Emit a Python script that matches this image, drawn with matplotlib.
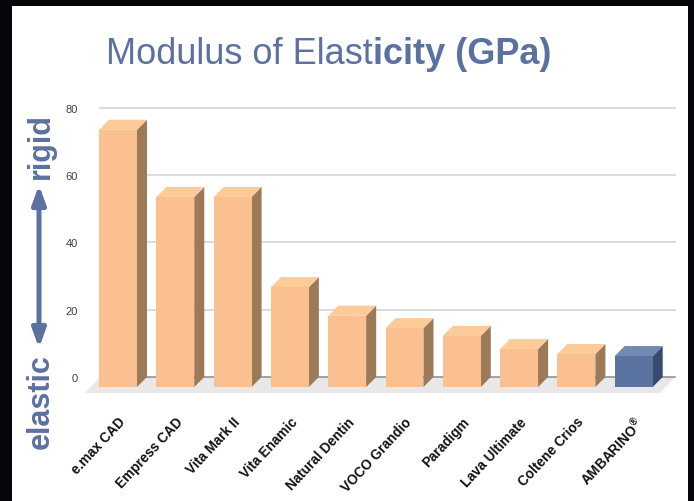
import matplotlib
matplotlib.use('Agg')
import matplotlib.pyplot as plt
from matplotlib.patches import Polygon, Rectangle, FancyArrowPatch

categories = ["e.max CAD", "Empress CAD", "Vita Mark II", "Vita Enamic", "Natural Dentin",
              "VOCO Grandio", "Paradigm", "Lava Ultimate", "Coltene Crios", "AMBARINO$^{®}$"]
values = [76.5, 56.5, 56.5, 29.7, 21.2, 17.5, 15.2, 11.3, 9.8, 9.2]
yticks = [0, 20, 40, 60, 80]
title_regular = "Modulus of Elast"
title_bold = "icity (GPa)"

plt.rcParams['font.family'] = ['Liberation Sans', 'DejaVu Sans']
plt.rcParams['mathtext.fontset'] = 'custom'
plt.rcParams['mathtext.rm'] = 'Liberation Sans:bold'
plt.rcParams['mathtext.it'] = 'Liberation Sans:bold'

W, H = 694, 502
def fx(px): return px / W
def fy(py): return 1 - py / H

BLUE = '#5B72A0'
fig = plt.figure(figsize=(6.94, 5.02), dpi=100, facecolor='#06060a')
fig.patches.append(Rectangle((fx(12), 0), (688 - 12) / W, (502 - 7) / H,
                             transform=fig.transFigure, facecolor='white',
                             edgecolor='none', zorder=-10))

ax = fig.add_axes([fx(83.6), fy(401.5), (682.4 - 83.6) / W, (401.5 - 98.9) / H])
ax.set_xlim(-0.6, 9.85)
ax.set_ylim(-7, 83)
ax.set_frame_on(False)
ax.patch.set_alpha(0)

DX, DY = 0.175, 3.0          # depth offset (data units)
HALF = 0.331                 # half bar width
wall_l, wall_r = -0.314, 9.72
FDX, FDY = -0.26, -4.76      # floor front offset

# floor
ax.add_patch(Polygon([(wall_l, 0), (wall_r, 0), (wall_r + FDX, FDY), (wall_l + FDX, FDY)],
                     closed=True, facecolor='#e8e8e8', edgecolor='none', zorder=1))
# gridlines on back wall
for t in yticks[1:]:
    ax.plot([wall_l, wall_r], [t, t], color='#d9d9d9', lw=1.3, zorder=1)
ax.plot([wall_l, wall_r], [0, 0], color='#8a8a8a', lw=1.1, zorder=1.5)

for i, v in enumerate(values):
    if i == len(values) - 1:
        front, side, top = '#5B73A0', '#364B6F', '#7189B4'
    else:
        front, side, top = '#FAC090', '#9C7A58', '#FCCB98'
    x0, x1 = i - HALF, i + HALF
    yb, yt = -DY, v - DY
    ax.add_patch(Polygon([(x1, yb), (x1 + DX, 0), (x1 + DX, v), (x1, yt)],
                         closed=True, facecolor=side, edgecolor='none', zorder=3))
    ax.add_patch(Polygon([(x0, yt), (x1, yt), (x1 + DX, v), (x0 + DX, v)],
                         closed=True, facecolor=top, edgecolor='none', zorder=3))
    ax.add_patch(Polygon([(x0, yb), (x1, yb), (x1, yt), (x0, yt)],
                         closed=True, facecolor=front, edgecolor='none', zorder=3))

ax.set_yticks(yticks)
ax.set_yticklabels([str(t) for t in yticks])
ax.tick_params(axis='y', length=0, pad=4, labelsize=8, labelcolor='#404040')
ax.set_xticks(range(len(categories)))
ax.set_xticklabels(categories, rotation=47, ha='right', rotation_mode='anchor',
                   fontweight='bold', fontsize=9.8, color='#111111')
ax.tick_params(axis='x', length=0, pad=10)

# title
t1 = fig.text(fx(106), fy(64), title_regular, fontsize=26, color=BLUE,
              ha='left', va='baseline')
fig.canvas.draw()
fig.add_artist(matplotlib.text.Annotation(title_bold, xy=(1, 0), xycoords=t1,
                                          ha='left', va='bottom', fontsize=26,
                                          color=BLUE, fontweight='bold',
                                          annotation_clip=False))

# side labels
fig.text(fx(49), fy(146), 'rigid', rotation=90, ha='center', va='baseline',
         rotation_mode='anchor', fontsize=22, fontweight='bold', color=BLUE)
fig.text(fx(49), fy(402), 'elastic', rotation=90, ha='center', va='baseline',
         rotation_mode='anchor', fontsize=22, fontweight='bold', color=BLUE)
arr = FancyArrowPatch((fx(39), fy(349)), (fx(39), fy(186)), transform=fig.transFigure,
                      arrowstyle='<|-|>,head_length=1.1,head_width=0.4',
                      mutation_scale=10, lw=3.6, color=BLUE, shrinkA=0, shrinkB=0)
fig.patches.append(arr)

fig.savefig('out.png', dpi=100, facecolor=fig.get_facecolor())
